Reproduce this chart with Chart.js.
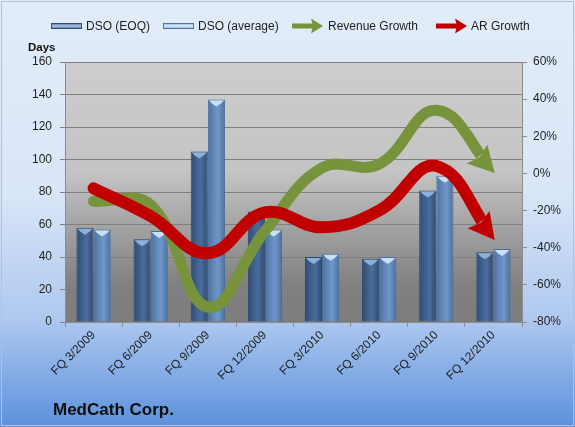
<!DOCTYPE html>
<html>
<head>
<meta charset="utf-8">
<script src="https://cdn.jsdelivr.net/npm/chart.js@4.4.1/dist/chart.umd.min.js"></script>
<style>
  html, body { margin: 0; padding: 0; background: #ffffff; }
  #wrap { width: 575px; height: 427px; position: relative; }
</style>
</head>
<body>
<div id="wrap"><canvas id="c" width="575" height="427"></canvas></div>
<script>
// ---- data ----
const categories = ['FQ 3/2009', 'FQ 6/2009', 'FQ 9/2009', 'FQ 12/2009', 'FQ 3/2010', 'FQ 6/2010', 'FQ 9/2010', 'FQ 12/2010'];
const dsoEOQ = [58, 51, 105, 68, 40, 39, 81, 43];
const dsoAverage = [57, 56, 137, 57, 42, 40, 90, 45];
const revenueGrowth = [-15, -17, -72, -31, 3, 5, 34, 1];
const arGrowth = [-8, -23, -43, -21, -29, -20, 4, -35];
const daysTicks = [0, 20, 40, 60, 80, 100, 120, 140, 160];
const growthTicks = [-80, -60, -40, -20, 0, 20, 40, 60];
const seriesNames = ['DSO (EOQ)', 'DSO (average)', 'Revenue Growth', 'AR Growth'];
const chartTitle = 'MedCath Corp.';
const axisTitle = 'Days';

const FONT = "'Liberation Sans', Arial, sans-serif";
const GREEN = '#77933c';
const RED = '#c00000';
const CAT_PCT = 0.6;

function barFill(edge, mid, light, side) {
  return (c) => {
    const xs = c.chart.scales.x;
    if (!xs || !xs.width) return mid;
    const cw = xs.width / categories.length;
    const bw = cw * CAT_PCT / 2;
    const center = xs.getPixelForValue(c.dataIndex) + side * bw / 2;
    const g = c.chart.ctx.createLinearGradient(center - bw / 2, 0, center + bw / 2, 0);
    g.addColorStop(0, edge);
    g.addColorStop(0.3, mid);
    g.addColorStop(0.6, light);
    g.addColorStop(1, edge);
    return g;
  };
}

const bgPlugin = {
  id: 'bg',
  beforeDraw(chart) {
    const { ctx, width, height, chartArea: a } = chart;
    ctx.save();
    const g = ctx.createLinearGradient(0, 0, 0, height);
    g.addColorStop(0, '#e2ecf9');
    g.addColorStop(0.45, '#d9e6f8');
    g.addColorStop(0.75, '#aec8ef');
    g.addColorStop(1, '#5b91dc');
    ctx.fillStyle = g;
    ctx.fillRect(0, 0, width, height);
    ctx.strokeStyle = '#b7c0cc';
    ctx.lineWidth = 1;
    ctx.strokeRect(1.5, 1.5, width - 3, height - 3);
    const pg = ctx.createLinearGradient(0, a.top, 0, a.bottom);
    pg.addColorStop(0, '#cdcdcd');
    pg.addColorStop(0.42, '#c4c4c4');
    pg.addColorStop(0.86, '#808080');
    pg.addColorStop(1, '#7d7d7d');
    ctx.fillStyle = pg;
    ctx.fillRect(a.left, a.top, a.right - a.left, a.bottom - a.top);
    ctx.restore();
  }
};

function arrowGeom(chart, index) {
  const meta = chart.getDatasetMeta(index);
  const pts = meta.data;
  const p = pts[pts.length - 1];
  const q = pts[pts.length - 2];
  let dx = p.x - (p.cp1x !== undefined ? p.cp1x : q.x);
  let dy = p.y - (p.cp1y !== undefined ? p.cp1y : q.y);
  if (Math.abs(dx) + Math.abs(dy) < 0.01) { dx = p.x - q.x; dy = p.y - q.y; }
  const len = Math.hypot(dx, dy);
  dx /= len; dy /= len;
  const L = 26, W = 14;
  const tip = { x: p.x + dx * 2, y: p.y + dy * 2 };
  const base = { x: tip.x - dx * L, y: tip.y - dy * L };
  return { dx, dy, tip, base, L, W };
}

const arrowPlugin = {
  id: 'arrows',
  beforeDatasetDraw(chart, args) {
    const ds = chart.data.datasets[args.index];
    if (ds.type !== 'line') return;
    const { dx, dy, base } = arrowGeom(chart, args.index);
    const nx = -dy, ny = dx, B = 3000;
    const ctx = chart.ctx;
    ctx.save();
    ctx.beginPath();
    const b = { x: base.x + dx * 3, y: base.y + dy * 3 };
    ctx.moveTo(b.x + nx * B, b.y + ny * B);
    ctx.lineTo(b.x - nx * B, b.y - ny * B);
    ctx.lineTo(b.x - nx * B - dx * B, b.y - ny * B - dy * B);
    ctx.lineTo(b.x + nx * B - dx * B, b.y + ny * B - dy * B);
    ctx.closePath();
    ctx.clip();
  },
  afterDatasetDraw(chart, args) {
    const ds = chart.data.datasets[args.index];
    if (ds.type !== 'line') return;
    const ctx = chart.ctx;
    ctx.restore();
    const { dx, dy, tip, base, W } = arrowGeom(chart, args.index);
    const nx = -dy, ny = dx;
    ctx.save();
    ctx.fillStyle = ds.borderColor;
    ctx.beginPath();
    ctx.moveTo(tip.x, tip.y);
    ctx.lineTo(base.x + nx * W, base.y + ny * W);
    ctx.lineTo(base.x + dx * 4, base.y + dy * 4);
    ctx.lineTo(base.x - nx * W, base.y - ny * W);
    ctx.closePath();
    ctx.fill();
    ctx.restore();
  }
};

const bevelPlugin = {
  id: 'bevel',
  afterDatasetDraw(chart, args) {
    const ds = chart.data.datasets[args.index];
    if (ds.type !== 'bar') return;
    const ctx = chart.ctx;
    const meta = chart.getDatasetMeta(args.index);
    ctx.save();
    meta.data.forEach((el) => {
      const l = el.x - el.width / 2 + 1, r = el.x + el.width / 2 - 1, t = el.y + 1;
      ctx.fillStyle = ds.bevelColor;
      ctx.beginPath();
      ctx.moveTo(l, t);
      ctx.lineTo(r, t);
      ctx.lineTo(r - 3, t + 3);
      ctx.lineTo(el.x, t + 6);
      ctx.lineTo(l + 3, t + 3);
      ctx.closePath();
      ctx.fill();
    });
    ctx.restore();
  }
};

const textPlugin = {
  id: 'texts',
  afterDraw(chart) {
    const ctx = chart.ctx;
    ctx.save();
    // legend
    const ly = 26;
    const items = [
      { x0: 51, x1: 82, tx: 86, kind: 'bar', c1: '#4a6b98', c2: '#a9c3e4', c3: '#2f4d78' },
      { x0: 163, x1: 194, tx: 198, kind: 'bar', c1: '#7aa2d4', c2: '#e0eefc', c3: '#4e76aa' },
      { x0: 292, x1: 323, tx: 328, kind: 'arrow', c1: GREEN },
      { x0: 436, x1: 467, tx: 471, kind: 'arrow', c1: RED }
    ];
    items.forEach((it, i) => {
      if (it.kind === 'bar') {
        const g = ctx.createLinearGradient(0, ly - 3, 0, ly + 3);
        g.addColorStop(0, it.c1);
        g.addColorStop(0.5, it.c2);
        g.addColorStop(1, it.c1);
        ctx.fillStyle = g;
        ctx.fillRect(it.x0, ly - 3, it.x1 - it.x0, 6);
        ctx.strokeStyle = it.c3;
        ctx.lineWidth = 1;
        ctx.strokeRect(it.x0 + 0.5, ly - 2.5, it.x1 - it.x0 - 1, 5);
      } else {
        ctx.fillStyle = it.c1;
        ctx.fillRect(it.x0, ly - 2.5, it.x1 - it.x0 - 9, 5);
        ctx.beginPath();
        ctx.moveTo(it.x1, ly);
        ctx.lineTo(it.x1 - 12, ly - 7.5);
        ctx.lineTo(it.x1 - 10, ly);
        ctx.lineTo(it.x1 - 12, ly + 7.5);
        ctx.closePath();
        ctx.fill();
      }
      ctx.fillStyle = '#1f1f1f';
      ctx.font = '12px ' + FONT;
      ctx.textBaseline = 'middle';
      ctx.textAlign = 'left';
      ctx.fillText(seriesNames[i], it.tx, ly + 1);
    });
    // axis title
    ctx.font = 'bold 11.5px ' + FONT;
    ctx.fillStyle = '#111';
    ctx.fillText(axisTitle, 28, 48);
    // chart title
    ctx.font = 'bold 17px ' + FONT;
    ctx.fillStyle = '#0d0d0d';
    ctx.fillText(chartTitle, 53, 410);
    ctx.restore();
  }
};

const ctx = document.getElementById('c').getContext('2d');
const chart = new Chart(ctx, {
  data: {
    labels: categories,
    datasets: [
      {
        type: 'bar', label: seriesNames[0], data: dsoEOQ, yAxisID: 'y', order: 2,
        backgroundColor: barFill('#2d4a72', '#3d5e8a', '#4a6d9b', -1),
        borderColor: '#2c466b', borderWidth: 1, bevelColor: 'rgba(150,185,225,0.9)',
        categoryPercentage: CAT_PCT, barPercentage: 1
      },
      {
        type: 'bar', label: seriesNames[1], data: dsoAverage, yAxisID: 'y', order: 2,
        backgroundColor: barFill('#4a6f9f', '#5f86b8', '#7097c8', 1),
        borderColor: '#4a6c98', borderWidth: 1, bevelColor: 'rgba(205,228,248,0.95)',
        categoryPercentage: CAT_PCT, barPercentage: 1
      },
      {
        type: 'line', label: seriesNames[2], data: revenueGrowth, yAxisID: 'y1', order: 1,
        borderColor: GREEN, borderWidth: 11, pointRadius: 0, pointHoverRadius: 0,
        tension: 0.42, fill: false, borderCapStyle: 'round', borderJoinStyle: 'round'
      },
      {
        type: 'line', label: seriesNames[3], data: arGrowth, yAxisID: 'y1', order: 0,
        borderColor: RED, borderWidth: 12, pointRadius: 0, pointHoverRadius: 0,
        tension: 0.42, fill: false, borderCapStyle: 'round', borderJoinStyle: 'round'
      }
    ]
  },
  options: {
    responsive: false,
    animation: false,
    events: [],
    layout: { padding: { top: 62, left: 0, right: 0, bottom: 0 } },
    plugins: { legend: { display: false }, tooltip: { enabled: false }, title: { display: false } },
    scales: {
      x: {
        offset: true,
        grid: { display: true, drawOnChartArea: false, drawTicks: true, tickLength: 5, color: '#8c8c8c', offset: true },
        border: { display: true, color: '#8c8c8c' },
        ticks: { color: '#1f1f1f', font: { family: FONT, size: 12 }, maxRotation: 45, minRotation: 45, padding: 1, autoSkip: false },
        afterFit(s) { s.height = 105; }
      },
      y: {
        position: 'left', min: 0, max: 160,
        afterBuildTicks(s) { s.ticks = daysTicks.map(v => ({ value: v })); },
        grid: { color: '#7f7f7f', lineWidth: 1, drawTicks: true, tickLength: 5 },
        border: { display: true, color: '#8c8c8c' },
        ticks: { color: '#1f1f1f', font: { family: FONT, size: 12 }, padding: 8 },
        afterFit(s) { s.width = 65; }
      },
      y1: {
        position: 'right', min: -80, max: 60,
        afterBuildTicks(s) { s.ticks = growthTicks.map(v => ({ value: v })); },
        grid: { drawOnChartArea: false, drawTicks: true, tickLength: 5, color: '#8c8c8c' },
        border: { display: true, color: '#8c8c8c' },
        ticks: { color: '#1f1f1f', font: { family: FONT, size: 12 }, padding: 6, callback: (v) => v + '%' },
        afterFit(s) { s.width = 53; }
      }
    }
  },
  plugins: [bgPlugin, arrowPlugin, bevelPlugin, textPlugin]
});
</script>
</body>
</html>
